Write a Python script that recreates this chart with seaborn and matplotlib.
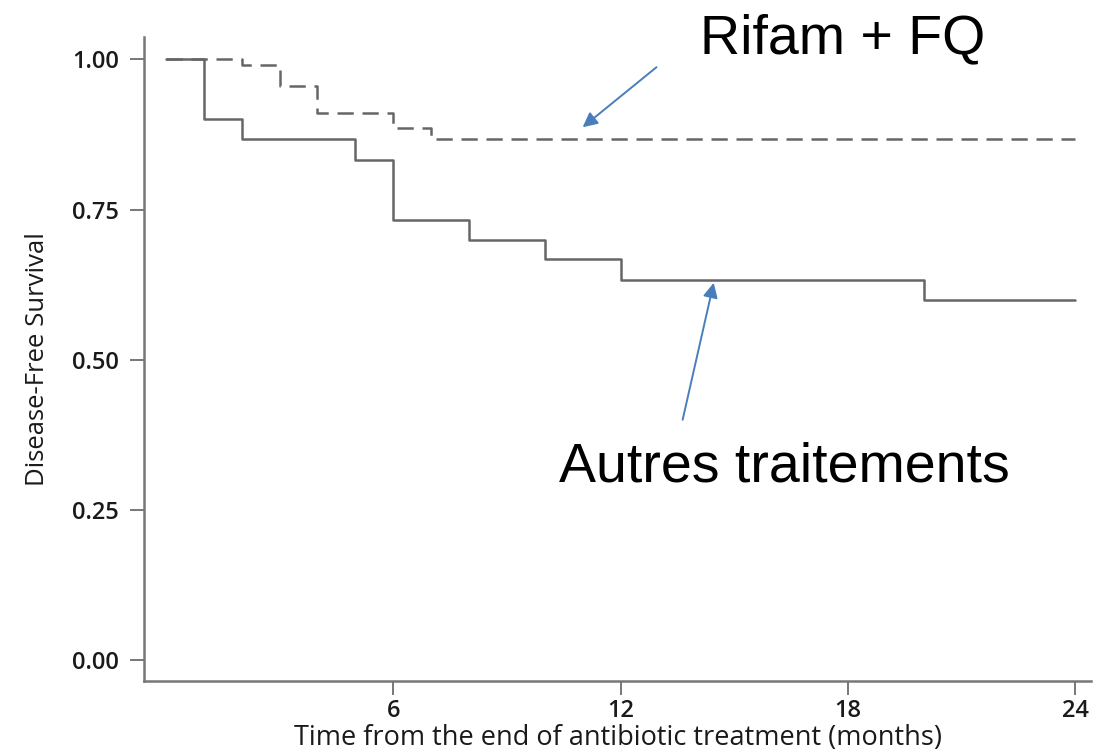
import numpy as np
import pandas as pd
import matplotlib
matplotlib.use("Agg")
import matplotlib.pyplot as plt
import seaborn as sns

# ---- data ----
autres_time = [0, 1, 2, 5, 6, 8, 10, 12, 20, 24]
autres_surv = [1.0, 0.900, 0.867, 0.833, 0.733, 0.700, 0.667, 0.633, 0.600, 0.600]
rifam_time = [0, 2, 3, 4, 6, 7, 24]
rifam_surv = [1.0, 0.99, 0.955, 0.91, 0.885, 0.867, 0.867]
groups = ["Autres traitements", "Rifam + FQ"]
x_ticks = [6, 12, 18, 24]
y_ticks = [0.00, 0.25, 0.50, 0.75, 1.00]
x_label = "Time from the end of antibiotic treatment (months)"
y_label = "Disease-Free Survival"

df = pd.concat([
    pd.DataFrame({"time": autres_time, "surv": autres_surv, "group": groups[0]}),
    pd.DataFrame({"time": rifam_time, "surv": rifam_surv, "group": groups[1]}),
], ignore_index=True)

sns.set_style("ticks")
plt.rcParams["font.family"] = ["Open Sans", "DejaVu Sans"]

fig = plt.figure(figsize=(10.94, 7.52), dpi=100)
ax = fig.add_axes([0.1316, 0.0944, 0.866, 0.857])

line_col = "#666666"
sns.lineplot(data=df, x="time", y="surv", hue="group", style="group",
             palette={groups[0]: line_col, groups[1]: line_col},
             dashes={groups[0]: "", groups[1]: (6.5, 3.5)},
             drawstyle="steps-post", estimator=None, linewidth=1.8,
             legend=False, ax=ax)

ax.set_xlim(-0.58, 24.43)
ax.set_ylim(-0.035, 1.038)
ax.set_xticks(x_ticks)
ax.set_xticklabels([str(t) for t in x_ticks])
ax.set_yticks(y_ticks)
ax.set_yticklabels([f"{t:.2f}" for t in y_ticks])
sns.despine(ax=ax)
for s in ["left", "bottom"]:
    ax.spines[s].set_color("#777777")
    ax.spines[s].set_linewidth(1.8)
ax.tick_params(axis="both", length=10, width=1.4, color="#777777",
               labelsize=17, labelcolor="#1a1a1a")
ax.tick_params(axis="x", pad=3)
ax.tick_params(axis="y", pad=8)
for lab in ax.get_xticklabels() + ax.get_yticklabels():
    lab.set_fontweight("semibold")
ax.set_xlabel(x_label, fontsize=19.5, color="#1a1a1a", labelpad=1)
ax.set_ylabel(y_label, fontsize=18.5, color="#1a1a1a", labelpad=16)

arrow_col = "#4a7ebb"
ax.annotate("", xy=(11.0, 0.887), xytext=(12.95, 0.987),
            arrowprops=dict(arrowstyle="-|>", color=arrow_col, lw=1.4,
                            mutation_scale=22, shrinkA=0, shrinkB=0),
            annotation_clip=False)
ax.annotate("", xy=(14.46, 0.628), xytext=(13.64, 0.40),
            arrowprops=dict(arrowstyle="-|>", color=arrow_col, lw=1.4,
                            mutation_scale=22, shrinkA=0, shrinkB=0),
            annotation_clip=False)
ax.text(17.86, 1.033, groups[1], fontsize=40, family=["Liberation Sans"],
        ha="center", va="center", color="black", clip_on=False)
ax.text(16.33, 0.32, groups[0], fontsize=40, family=["Liberation Sans"],
        ha="center", va="center", color="black", clip_on=False)

fig.savefig("out.png", dpi=100)
